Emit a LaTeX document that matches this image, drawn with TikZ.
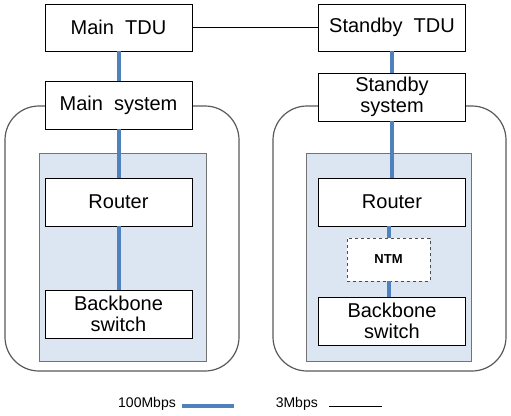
\documentclass[tikz,border=0pt]{standalone}
\usepackage{fontspec}
\setmainfont{Liberation Sans}
\usetikzlibrary{positioning}
\definecolor{linkblue}{HTML}{4F81BD}
\definecolor{shade}{HTML}{DCE6F2}
\tikzset{
  unit/.style = {draw=black, fill=white, align=center, inner sep=0pt, minimum width=147pt, minimum height=48pt, font=\fontsize{20}{21}\selectfont},
  ntmbox/.style = {draw=black!70, dashed, fill=white, inner sep=0pt, minimum width=83pt, minimum height=43pt, font=\fontsize{13}{14}\selectfont\bfseries},
  panel/.style = {draw=black!65, line width=1.2pt, rounded corners=34pt},
  rack/.style = {draw=black!55, fill=shade, line width=1pt},
  fast/.style = {draw=linkblue, line width=4pt},
  slow/.style = {draw=black, line width=0.9pt},
  legend/.style = {font=\fontsize{14}{15}\selectfont, inner sep=0pt},
}
\begin{document}
\begin{tikzpicture}[x=1pt,y=-1pt]
\useasboundingbox (0,0) rectangle (511,415);
% system enclosures
\draw[panel] (5,106) rectangle (239,371);
\draw[panel] (273,106) rectangle (506,371);
\draw[rack] (39,153) rectangle (206,361);
\draw[rack] (306,153) rectangle (471,361);
% main side
\node [unit, minimum height=47pt] (mtdu) at (118.5,27.5) {Main\ \ TDU};
\node [unit] (msys) at (118.5,105) {Main\ \ system};
\node [unit] (mrouter) at (118.5,202) {Router};
\node [unit] (mswitch) at (118.5,314) {Backbone\\switch};
% standby side
\node [unit, minimum height=47pt] (stdu) at (392,27.5) {Standby\ \ TDU};
\node [unit] (ssys) at (392,97) {Standby\\system};
\node [unit] (srouter) at (392,202) {Router};
\node [ntmbox] (ntm) at (388.5,259.5) {NTM};
\node [unit] (sswitch) at (392,321) {Backbone\\switch};
% links
\draw[slow] (mtdu) -- (stdu);
\draw[fast] (mtdu) -- (msys);
\draw[fast] (msys) -- (mrouter);
\draw[fast] (mrouter) -- (mswitch);
\draw[fast] (stdu) -- (ssys);
\draw[fast] (ssys) -- (srouter);
\draw[fast] (srouter.south -| ntm) -- (ntm);
\draw[fast] (ntm) -- (sswitch.north -| ntm);
% legend
\node [legend, anchor=east] (fastlbl) at (176,404) {100Mbps};
\coordinate (fastend) at (234,406);
\draw[fast] (fastlbl.east) ++(6,2) -- (fastend);
\node [legend, anchor=east] (slowlbl) at (318,404) {3Mbps};
\coordinate (slowend) at (382,406);
\draw[slow] (slowlbl.east) ++(11,2) -- (slowend);
\end{tikzpicture}
\end{document}
